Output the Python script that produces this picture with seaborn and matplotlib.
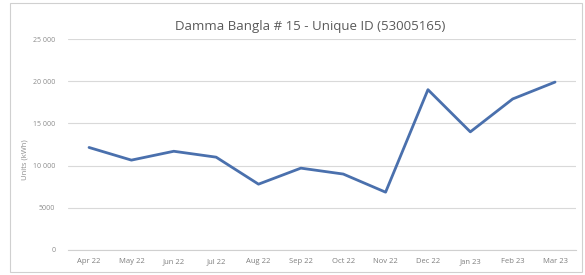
import pandas as pd
import matplotlib.pyplot as plt
import seaborn as sns
from matplotlib.patches import Rectangle

# Monthly units
months = ['Apr 22', 'May 22', 'Jun 22', 'Jul 22', 'Aug 22', 'Sep 22',
          'Oct 22', 'Nov 22', 'Dec 22', 'Jan 23', 'Feb 23', 'Mar 23']
units = [12150, 10650, 11700, 11000, 7800, 9700,
         9000, 6850, 19000, 14000, 17900, 19900]
yticks = [0, 5000, 10000, 15000, 20000, 25000]

df = pd.DataFrame({'month': months, 'units': units})
df['pos'] = range(len(months))

sns.set_style("white")
plt.rcParams['font.family'] = ['Open Sans', 'DejaVu Sans']

fig = plt.figure(figsize=(5.85, 2.75), dpi=100)
ax = fig.add_axes([0.116, 0.091, 0.869, 0.767])

sns.lineplot(data=df, x='pos', y='units', color='#4a70ad', linewidth=2, ax=ax)

ax.set_xlim(-0.5, len(months) - 0.5)
ax.set_ylim(0, 25000)
ax.set_yticks(yticks)
ax.set_yticklabels([f'{v:,}'.replace(',', ' ') if v >= 10000 else str(v) for v in yticks],
                   fontsize=5, color='#8c8c8c')
ax.set_xticks(df['pos'])
ax.set_xticklabels(months, fontsize=5.5, color='#7f7f7f')
ax.set_xticks([p - 0.5 for p in range(len(months) + 1)], minor=True)
ax.tick_params(axis='x', which='major', length=0, pad=6)
ax.tick_params(axis='x', which='minor', length=3, color='#d0d0d0', width=0.8)
ax.tick_params(axis='y', length=0, pad=9)

ax.yaxis.grid(True, color='#d9d9d9', linewidth=0.8)
ax.set_axisbelow(True)
for s in ['top', 'right', 'left']:
    ax.spines[s].set_visible(False)
ax.spines['bottom'].set_color('#d0d0d0')
ax.spines['bottom'].set_linewidth(0.8)

ax.set_xlabel('')
ax.set_ylabel('Units (kWh)', fontsize=5.5, color='#8c8c8c')
ax.yaxis.set_label_coords(-0.078, 0.43)

fig.text(0.53, 0.905, 'Damma Bangla # 15 - Unique ID (53005165)',
         ha='center', va='center', fontsize=9.5, color='#595959')

fig.patches.append(Rectangle((0.017, 0.011), 0.978, 0.978, transform=fig.transFigure,
                             fill=False, edgecolor='#d0d0d0', linewidth=0.8))

plt.savefig('out.png', dpi=100)
plt.close()
